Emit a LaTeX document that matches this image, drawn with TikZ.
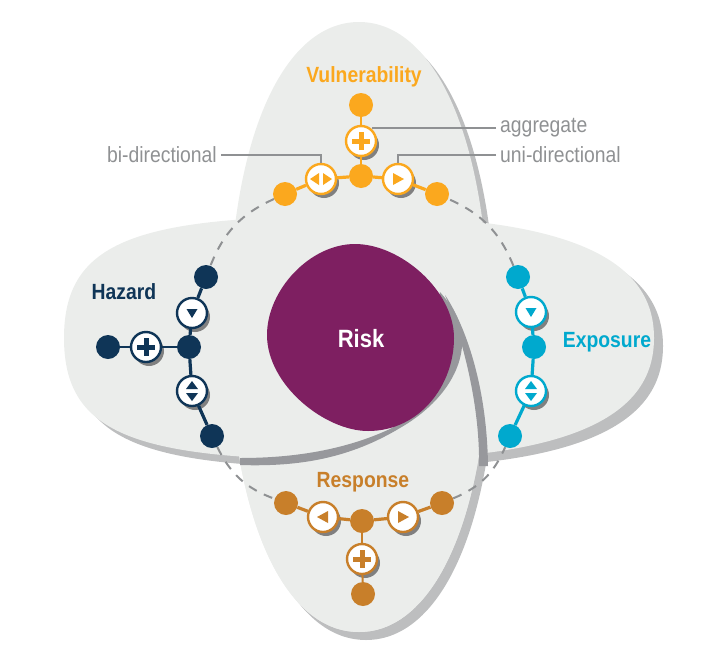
\documentclass[tikz,border=0pt]{standalone}
\usepackage{fontspec}
\setmainfont[FakeStretch=0.88]{Liberation Sans}
\usepackage{xcolor}
\usepackage{tikz}
\usetikzlibrary{shadows}

\definecolor{lobefill}{HTML}{EBEDEB}
\definecolor{lobeshade}{HTML}{BDBEBF}
\definecolor{swirlshade}{HTML}{97989C}
\definecolor{riskpurple}{HTML}{7E1F61}
\definecolor{vulncol}{HTML}{FBA81E}
\definecolor{hazcol}{HTML}{0F3557}
\definecolor{expocol}{HTML}{00A9CE}
\definecolor{respcol}{HTML}{C87F2A}
\definecolor{leadgray}{HTML}{8F9193}

% upright lobe outline: centre x, centre y
\newcommand{\uprightlobe}[2]{({#1+130},#2)
  .. controls ({#1+130},{#2-183}) and ({#1+78},{#2-305}) .. (#1,{#2-305})
  .. controls ({#1-78},{#2-305}) and ({#1-130},{#2-183}) .. ({#1-130},#2)
  .. controls ({#1-130},{#2+183}) and ({#1-78},{#2+305}) .. (#1,{#2+305})
  .. controls ({#1+78},{#2+305}) and ({#1+130},{#2+183}) .. ({#1+130},#2) -- cycle}
% lying lobe outline: the right end is sharper than the left one
\newcommand{\lyinglobe}[2]{({#1+296},#2)
  .. controls ({#1+296},{#2-67}) and ({#1+237},{#2-122}) .. (#1,{#2-122})
  .. controls ({#1-220},{#2-122}) and ({#1-294},{#2-98}) .. ({#1-294},#2)
  .. controls ({#1-294},{#2+98}) and ({#1-220},{#2+122}) .. (#1,{#2+122})
  .. controls ({#1+237},{#2+122}) and ({#1+296},{#2+67}) .. ({#1+296},#2) -- cycle}

\tikzset{
  dotnode/.style={circle, fill=#1, minimum size=24pt, inner sep=0pt},
  iconnode/.style={circle, draw=#1, line width=2.4pt, fill=white, minimum size=30pt, inner sep=0pt,
    drop shadow={shadow xshift=3pt, shadow yshift=-4pt, fill=black!50, opacity=1}},
  plusmark/.style={path picture={
    \fill[#1] ([shift={(-9,-2.5)}]path picture bounding box.center) rectangle ++(18,5);
    \fill[#1] ([shift={(-2.5,-9)}]path picture bounding box.center) rectangle ++(5,18);}},
  rightmark/.style={path picture={
    \fill[#1] ([shift={(-5,-6)}]path picture bounding box.center) -- ++(11,6) -- ++(-11,6) -- cycle;}},
  leftmark/.style={path picture={
    \fill[#1] ([shift={(5,-6)}]path picture bounding box.center) -- ++(-11,6) -- ++(11,6) -- cycle;}},
  downmark/.style={path picture={
    \fill[#1] ([shift={(-5.5,-4)}]path picture bounding box.center) -- ++(11,0) -- ++(-5.5,9) -- cycle;}},
  bothmark/.style={path picture={
    \fill[#1] ([shift={(-2,-6)}]path picture bounding box.center) -- ++(-9,6) -- ++(9,6) -- cycle;
    \fill[#1] ([shift={(2,-6)}]path picture bounding box.center) -- ++(9,6) -- ++(-9,6) -- cycle;}},
  updownmark/.style={path picture={
    \fill[#1] ([shift={(-6,-2)}]path picture bounding box.center) -- ++(12,0) -- ++(-6,-8) -- cycle;
    \fill[#1] ([shift={(-6,2)}]path picture bounding box.center) -- ++(12,0) -- ++(-6,8) -- cycle;}},
  title/.style={font=\fontsize{22}{24}\selectfont\bfseries, inner sep=0pt},
  leadlabel/.style={font=\fontsize{22}{24}\selectfont, text=leadgray, inner sep=0pt, inner xsep=4pt},
  leader/.style={draw=leadgray, line width=1.6pt},
  trail/.style={draw=leadgray, line width=2pt, dash pattern=on 9pt off 8pt},
  arm/.style={draw=#1, line width=3.2pt},
  thinarm/.style={draw=#1, line width=2pt}
}

\begin{document}
\begin{tikzpicture}[x=1pt, y=-1pt]
  \useasboundingbox (0,0) rectangle (714,656);
  % the four lobes
  \fill[lobeshade] \uprightlobe{366}{335};
  \fill[lobefill] \uprightlobe{359}{327};
  \fill[lobeshade] \lyinglobe{367}{346};
  \fill[lobefill] \lyinglobe{358}{338};
  \begin{scope}
    \clip (200,440) rectangle (500,650);
    \fill[lobefill] \uprightlobe{359}{327};
  \end{scope}
  % swirl behind the risk shape
  \fill[swirlshade] (240,465) .. controls (300,467) and (350,458) .. (400,428)
    .. controls (440,405) and (465,370) .. (462,335)
    .. controls (460,318) and (452,306) .. (440,292)
    -- (420,400) -- (392,428) .. controls (350,448) and (300,458) .. (240,458) -- cycle;
  \fill[swirlshade] (445,295) .. controls (465,325) and (487,385) .. (488,466)
    -- (479,466) .. controls (480,410) and (465,345) .. (445,295) -- cycle;
  \fill[riskpurple] (355,244) .. controls (400,244) and (454,290) .. (454,338)
    .. controls (454,385) and (420,431) .. (368,431)
    .. controls (325,431) and (267,385) .. (267,335)
    .. controls (267,290) and (310,244) .. (355,244) -- cycle;
  \node[text=white, inner sep=0pt, font=\fontsize{25}{27}\selectfont\bfseries] (risk) at (361,339) {Risk};

  % vulnerability
  \node[dotnode=vulncol] (vtop) at (361,105) {};
  \node[iconnode=vulncol, plusmark=vulncol] (vplus) at (361,141) {};
  \node[dotnode=vulncol] (vmid) at (361,176) {};
  \node[iconnode=vulncol, bothmark=vulncol] (vbi) at (321,179) {};
  \node[iconnode=vulncol, rightmark=vulncol] (vuni) at (398,179) {};
  \node[dotnode=vulncol] (vleft) at (285,194) {};
  \node[dotnode=vulncol] (vright) at (437,194) {};
  \draw[thinarm=vulncol] (vtop) -- (vplus);
  \draw[thinarm=vulncol] (vplus) -- (vmid);
  \foreach \a/\b in {vmid/vbi, vmid/vuni, vbi/vleft, vuni/vright} {\draw[arm=vulncol] (\a) -- (\b);}
  \node[title, text=vulncol] (vlabel) at (364,77) {Vulnerability};

  % hazard
  \node[dotnode=hazcol] (htop) at (206,277) {};
  \node[iconnode=hazcol, downmark=hazcol] (hdown) at (192,313) {};
  \node[dotnode=hazcol] (hmid) at (189,347) {};
  \node[iconnode=hazcol, updownmark=hazcol] (hboth) at (192,391) {};
  \node[dotnode=hazcol] (hbot) at (212,436) {};
  \node[iconnode=hazcol, plusmark=hazcol] (hplus) at (146,347) {};
  \node[dotnode=hazcol] (hleft) at (108,347) {};
  \foreach \a/\b in {htop/hdown, hdown/hmid, hmid/hboth, hboth/hbot} {\draw[arm=hazcol] (\a) -- (\b);}
  \draw[thinarm=hazcol] (hmid) -- (hplus);
  \draw[thinarm=hazcol] (hplus) -- (hleft);
  \node[title, text=hazcol] (hlabel) at (124,292) {Hazard};

  % exposure
  \node[dotnode=expocol] (etop) at (518,277) {};
  \node[iconnode=expocol, downmark=expocol] (edown) at (531,312) {};
  \node[dotnode=expocol] (emid) at (534,347) {};
  \node[iconnode=expocol, updownmark=expocol] (eboth) at (531,391) {};
  \node[dotnode=expocol] (ebot) at (510,436) {};
  \foreach \a/\b in {etop/edown, edown/emid, emid/eboth, eboth/ebot} {\draw[arm=expocol] (\a) -- (\b);}
  \node[title, text=expocol] (elabel) at (607,342) {Exposure};

  % response
  \node[dotnode=respcol] (rleft) at (286,503) {};
  \node[iconnode=respcol, leftmark=respcol] (rback) at (323,517) {};
  \node[dotnode=respcol] (rmid) at (362,521) {};
  \node[iconnode=respcol, rightmark=respcol] (rfwd) at (403,517) {};
  \node[dotnode=respcol] (rright) at (442,503) {};
  \node[iconnode=respcol, plusmark=respcol] (rplus) at (362,559) {};
  \node[dotnode=respcol] (rbot) at (363,594) {};
  \foreach \a/\b in {rleft/rback, rback/rmid, rmid/rfwd, rfwd/rright} {\draw[arm=respcol] (\a) -- (\b);}
  \draw[thinarm=respcol] (rmid) -- (rplus);
  \draw[thinarm=respcol] (rplus) -- (rbot);
  \node[title, text=respcol] (rlabel) at (363,482) {Response};

  % dashed ring between the groups
  \draw[trail] (vleft) to[bend right=22] (htop);
  \draw[trail] (hbot) to[bend right=22] (rleft);
  \draw[trail] (rright) to[bend right=22] (ebot);
  \draw[trail] (etop) to[bend right=22] (vright);

  % labels with leaders
  \node[leadlabel, anchor=east] (bilabel) at (221,155) {bi-directional};
  \node[leadlabel, anchor=west] (agglabel) at (496,128) {aggregate};
  \node[leadlabel, anchor=west] (unilabel) at (496,155) {uni-directional};
  \draw[leader] (bilabel.east) -| (vbi);
  \draw[leader] (unilabel.west) -| (vuni);
  \draw[leader] (agglabel.west) -- (vplus.north east |- agglabel.west);
\end{tikzpicture}
\end{document}
